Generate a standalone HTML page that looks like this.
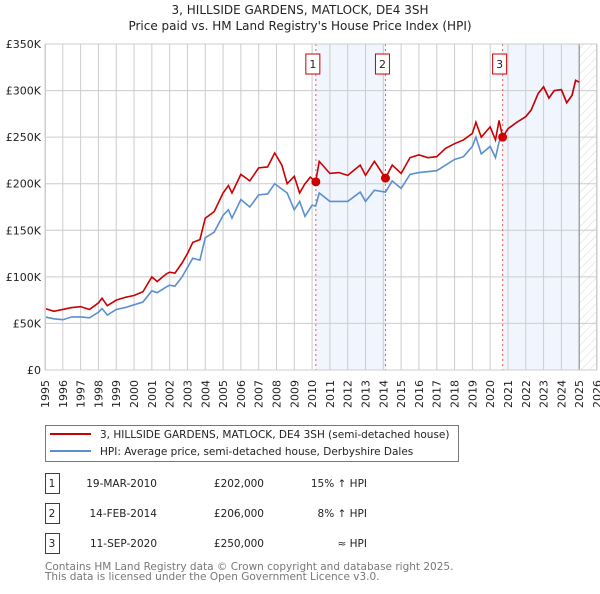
<!DOCTYPE html>
<html><head><meta charset="utf-8"><style>
body{margin:0;background:#fff;font-family:"DejaVu Sans","Liberation Sans",sans-serif;}
svg text{font-family:"DejaVu Sans","Liberation Sans",sans-serif;}
</style></head><body>
<svg id="chart" width="600" height="590" xmlns="http://www.w3.org/2000/svg">
<defs><pattern id="hatch" width="6" height="6" patternUnits="userSpaceOnUse" patternTransform="rotate(45)"><line x1="0" y1="0" x2="0" y2="6" stroke="#d8d8d8" stroke-width="1"/></pattern></defs>
<text x="300" y="14" text-anchor="middle" font-size="12" fill="#222">3, HILLSIDE GARDENS, MATLOCK, DE4 3SH</text>
<text x="300" y="30" text-anchor="middle" font-size="12" fill="#222">Price paid vs. HM Land Registry's House Price Index (HPI)</text>
<g id="plot"></g>
<g>
<rect x="45.5" y="425.5" width="413" height="36" fill="#fff" stroke="#777"/>
<line x1="50" y1="434" x2="91" y2="434" stroke="#cc0000" stroke-width="2"/>
<text x="100" y="438" font-size="10.5" fill="#222">3, HILLSIDE GARDENS, MATLOCK, DE4 3SH (semi-detached house)</text>
<line x1="50" y1="451" x2="91" y2="451" stroke="#5b8fd0" stroke-width="2"/>
<text x="100" y="455" font-size="10.5" fill="#222">HPI: Average price, semi-detached house, Derbyshire Dales</text>
</g>
<g id="table"></g>
<text x="45" y="570" font-size="10.5" fill="#777">Contains HM Land Registry data © Crown copyright and database right 2025.</text>
<text x="45" y="580" font-size="10.5" fill="#777">This data is licensed under the Open Government Licence v3.0.</text>
</svg>
<script>
const yTicks=[0,50,100,150,200,250,300,350];
const yTickLabels=["£0","£50K","£100K","£150K","£200K","£250K","£300K","£350K"];
const xYears=[1995,1996,1997,1998,1999,2000,2001,2002,2003,2004,2005,2006,2007,2008,2009,2010,2011,2012,2013,2014,2015,2016,2017,2018,2019,2020,2021,2022,2023,2024,2025,2026];
const redT=[1995,1995.5,1996,1996.5,1997,1997.5,1998,1998.2,1998.5,1999,1999.5,2000,2000.5,2001,2001.3,2001.8,2002,2002.3,2002.7,2003,2003.3,2003.7,2004,2004.5,2005,2005.3,2005.5,2006,2006.5,2007,2007.5,2007.9,2008.3,2008.6,2009,2009.3,2009.6,2009.9,2010.2,2010.4,2011,2011.5,2012,2012.7,2013,2013.5,2014.12,2014.5,2015,2015.5,2016,2016.5,2017,2017.5,2018,2018.5,2019,2019.2,2019.5,2020,2020.3,2020.5,2020.7,2021,2021.5,2022,2022.3,2022.7,2023,2023.3,2023.6,2024,2024.3,2024.6,2024.8,2025];
const redV=[66,63,65,67,68,65,72,77,69,75,78,80,84,100,95,103,105,104,115,125,137,140,163,170,190,198,190,210,203,217,218,233,220,200,208,190,200,207,202,224,211,212,209,220,209,224,206,220,211,228,231,228,229,238,243,247,254,266,250,261,247,268,250,259,266,272,279,297,304,292,300,301,287,295,311,309];
const blueT=[1995,1995.5,1996,1996.5,1997,1997.5,1998,1998.2,1998.5,1999,1999.5,2000,2000.5,2001,2001.3,2001.8,2002,2002.3,2002.7,2003,2003.3,2003.7,2004,2004.5,2005,2005.3,2005.5,2006,2006.5,2007,2007.5,2007.9,2008.6,2009,2009.3,2009.6,2010,2010.2,2010.4,2011,2012,2012.7,2013,2013.5,2014.12,2014.5,2015,2015.5,2016,2017,2017.5,2018,2018.5,2019,2019.2,2019.5,2020,2020.3,2020.5,2020.7];
const blueV=[57,55,54,57,57,56,62,66,59,65,67,70,73,85,83,89,91,90,100,110,120,118,142,148,166,172,163,183,175,188,189,200,190,172,181,165,177,176,190,181,181,191,181,193,191,203,195,210,212,214,220,226,229,240,250,232,240,228,245,250];
const saleT=[2010.21,2014.12,2020.7];
const saleV=[202,206,250];
const saleLabels=["1","2","3"];
const saleDates=["19-MAR-2010","14-FEB-2014","11-SEP-2020"];
const salePrices=["£202,000","£206,000","£250,000"];
const saleRel=["15% ↑ HPI","8% ↑ HPI","≈ HPI"];

const L=45,R=597,T=44,B=370;
const xs=t=>L+(t-1995)*(R-L)/31;
const ys=v=>B-v*(B-T)/350;
const NS="http://www.w3.org/2000/svg";
const plot=document.getElementById('plot');
function mk(tag,attrs,parent){const e=document.createElementNS(NS,tag);for(const k in attrs)e.setAttribute(k,attrs[k]);(parent||plot).appendChild(e);return e;}
let s1=mk('rect',{x:xs(saleT[0]),y:T,width:xs(saleT[1])-xs(saleT[0]),height:B-T,fill:'#eef2fc',opacity:0.8});


let s2=mk('rect',{x:xs(saleT[2]),y:T,width:xs(2025)-xs(saleT[2]),height:B-T,fill:'#eef2fc',opacity:0.8});


let h=mk('rect',{x:xs(2025),y:T,width:R-xs(2025),height:B-T,fill:'url(#hatch)'});


yTicks.forEach((v,i)=>{
 let g=mk('line',{x1:L,x2:R,y1:ys(v),y2:ys(v),stroke:'#cccccc','stroke-width':1});
 
 
 let t=mk('text',{x:L-4,y:ys(v)+4,'text-anchor':'end','font-size':11,fill:'#222'});
 t.textContent=yTickLabels[i];
 
 
});
xYears.forEach(yr=>{
 let g=mk('line',{x1:xs(yr),x2:xs(yr),y1:T,y2:B,stroke:'#cccccc','stroke-width':1});
 
 
 const x=xs(yr)+4,y=380;
 let t=mk('text',{x:x,y:y,'text-anchor':'end','font-size':11,fill:'#222',transform:'rotate(-90 '+x+' '+y+')'});
 t.textContent=yr;
 
 
});
let now=mk('line',{x1:xs(2025),x2:xs(2025),y1:T,y2:B,stroke:'#888','stroke-width':1});


saleT.forEach((t,i)=>{
 let l=mk('line',{x1:xs(t),x2:xs(t),y1:T,y2:B,stroke:'#ee5555','stroke-width':1,'stroke-dasharray':'2,3'});
 
 
 let r=mk('rect',{x:xs(t)-10,y:54,width:14,height:20,fill:'#fff',stroke:'#cc0000'});
 
 
 let tx=mk('text',{x:xs(t)-3,y:68,'text-anchor':'middle','font-size':11,fill:'#222'});
 tx.textContent=saleLabels[i];
 
 
});
const bPts=blueT.map((t,i)=>[t,blueV[i]]);
redT.forEach((t,i)=>{if(t>blueT[blueT.length-1])bPts.push([t,redV[i]]);});
let bl=mk('polyline',{points:bPts.map(p=>xs(p[0])+','+ys(p[1])).join(' '),fill:'none',stroke:'#5b8fd0','stroke-width':1.6});


let rl=mk('polyline',{points:redT.map((t,i)=>xs(t)+','+ys(redV[i])).join(' '),fill:'none',stroke:'#cc0000','stroke-width':1.6});


saleT.forEach((t,i)=>{
 let c=mk('circle',{cx:xs(t),cy:ys(saleV[i]),r:4.5,fill:'#cc0000'});
 
 
});
let fr=mk('rect',{x:L+0.5,y:T,width:R-L-1,height:B-T,fill:'none',stroke:'#cccccc'});


const tb=document.getElementById('table');
saleT.forEach((t,i)=>{
 const cy=483+i*30;
 let r=mk('rect',{x:45.5,y:cy-9.5,width:14,height:20,fill:'#fff',stroke:'#cc0000'},tb);
 
 
 const cells=[[52,'middle',saleLabels[i]],[157,'end',saleDates[i]],[264,'end',salePrices[i]],[367,'end',saleRel[i]]];
 cells.forEach(c=>{
  let tx=mk('text',{x:c[0],y:cy+4,'text-anchor':c[1],'font-size':10.5,fill:'#222'},tb);
  tx.textContent=c[2];
  
  
 });
});
</script>
</body></html>
